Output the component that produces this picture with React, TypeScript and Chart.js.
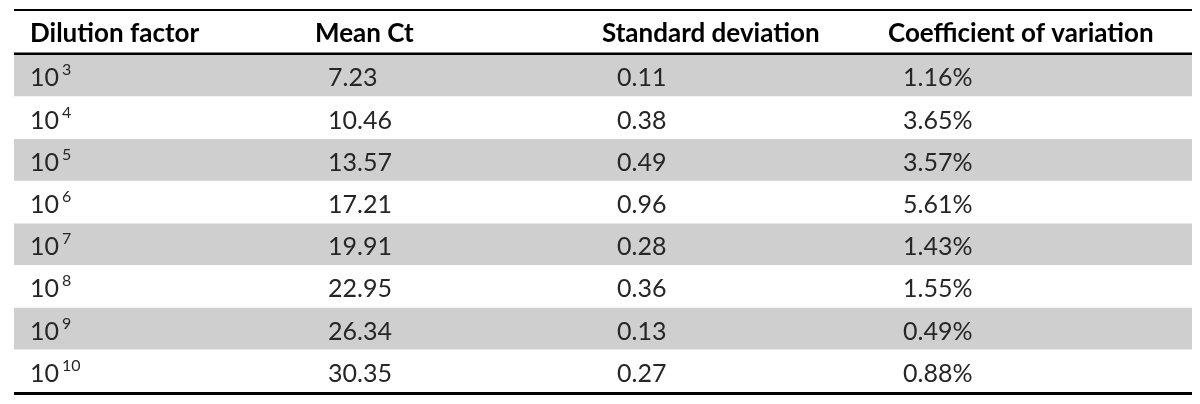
import React, { useEffect, useRef } from "react";
import { Chart, registerables } from "chart.js";

Chart.register(...registerables);

// ---- data ----
const headers = ["Dilution factor", "Mean Ct", "Standard deviation", "Coefficient of variation"];
const dilutionExponents = [3, 4, 5, 6, 7, 8, 9, 10];
const meanCt = [7.23, 10.46, 13.57, 17.21, 19.91, 22.95, 26.34, 30.35];
const stdDev = [0.11, 0.38, 0.49, 0.96, 0.28, 0.36, 0.13, 0.27];
const coefVar = [1.16, 3.65, 3.57, 5.61, 1.43, 1.55, 0.49, 0.88];

// ---- layout / style ----
const TABLE_W = 1178;
const HEADER_X = [16, 301, 588, 874];
const BODY_X = [16, 314, 603, 889];
const HEADER_FONT = "bold 26px Lato";
const BODY_FONT = "25px Lato";
const SUP_FONT = "16px Lato";

const tablePlugin = {
  id: "tableText",
  afterDatasetsDraw(chart: any) {
    const { ctx, scales } = chart;
    const xs = scales.x;
    const ys = scales.y;
    const x0 = xs.getPixelForValue(0);
    const x1 = xs.getPixelForValue(TABLE_W);
    ctx.save();
    // rules
    const rule = (v: number, w: number, off: number) => {
      const y = ys.getPixelForValue(v) + off;
      ctx.beginPath();
      ctx.strokeStyle = "#000";
      ctx.lineWidth = w;
      ctx.moveTo(x0, y);
      ctx.lineTo(x1, y);
      ctx.stroke();
    };
    rule(ys.min, 2, 0);
    rule(0, 2.5, -0.5);
    rule(ys.max, 3, 1.5);

    // header
    ctx.textBaseline = "alphabetic";
    ctx.textAlign = "left";
    ctx.fillStyle = "#000";
    ctx.font = HEADER_FONT;
    const hc = ys.getPixelForValue(ys.min / 2);
    headers.forEach((h, j) => {
      ctx.fillText(h, xs.getPixelForValue(HEADER_X[j]), hc + 9.5);
    });

    // body
    ctx.fillStyle = "#262626";
    dilutionExponents.forEach((e, i) => {
      const base = ys.getPixelForValue(i + 0.5) + 11;
      ctx.font = BODY_FONT;
      const bx = xs.getPixelForValue(BODY_X[0]);
      ctx.fillText("10", bx, base);
      const w = ctx.measureText("10").width;
      ctx.font = SUP_FONT;
      ctx.fillText(String(e), bx + w + 3, base - 11);
      ctx.font = BODY_FONT;
      ctx.fillText(meanCt[i].toFixed(2), xs.getPixelForValue(BODY_X[1]), base);
      ctx.fillText(stdDev[i].toFixed(2), xs.getPixelForValue(BODY_X[2]), base);
      ctx.fillText(coefVar[i].toFixed(2) + "%", xs.getPixelForValue(BODY_X[3]), base);
    });
    ctx.restore();
  },
};

export default function App() {
  const ref = useRef<HTMLCanvasElement | null>(null);
  useEffect(() => {
    if (!ref.current) return;
    const stripes = dilutionExponents
      .map((_, i) => i)
      .filter((i) => i % 2 === 0)
      .map((i) => ({ x: [0, TABLE_W], y: i + 0.5 }));
    const chart = new Chart(ref.current, {
      type: "bar",
      data: {
        datasets: [
          {
            data: stripes as any,
            backgroundColor: "#cfcfcf",
            borderWidth: 0,
            barThickness: 41,
          },
        ],
      },
      options: {
        indexAxis: "y",
        responsive: false,
        animation: false,
        events: [],
        layout: { padding: { left: 14, right: 8, top: 10, bottom: 12 } },
        plugins: { legend: { display: false }, tooltip: { enabled: false } },
        scales: {
          x: { type: "linear", min: 0, max: TABLE_W, display: false, offset: false, grid: { display: false } },
          y: { type: "linear", min: -1.05, max: 8, reverse: true, display: false, offset: false, grid: { display: false } },
        },
      },
      plugins: [tablePlugin],
    });
    return () => chart.destroy();
  }, []);
  return (
    <div style={{ position: "fixed", left: 0, top: 0, width: 1200, height: 404, background: "#fff" }}>
      <canvas ref={ref} width={1200} height={404} style={{ width: 1200, height: 404 }} />
    </div>
  );
}
